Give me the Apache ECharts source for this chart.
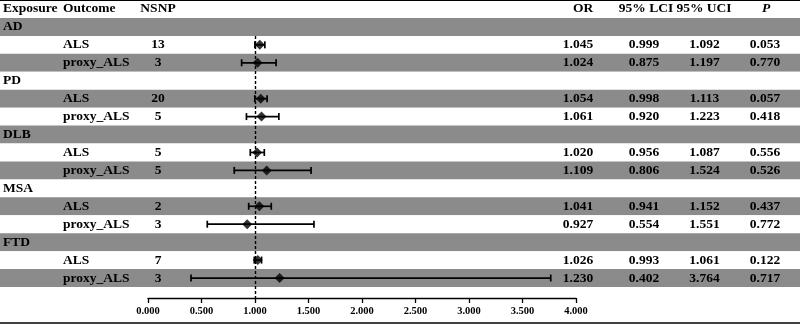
<!DOCTYPE html>
<html>
<head>
<meta charset="utf-8">
<script src="https://cdn.jsdelivr.net/npm/echarts@6/dist/echarts.min.js"></script>
<style>
html, body { margin: 0; padding: 0; background: #fff; }
#chart { width: 800px; height: 326px; }
</style>
</head>
<body>
<div id="chart"></div>
<script>
// 森林图：左右两侧为表格列（y 轴富文本标签），中间为 OR 及 95% CI。

const exposures = ['AD', 'PD', 'DLB', 'MSA', 'FTD']
const outcomes = ['ALS', 'proxy_ALS']
const nsnp = [13, 3, 20, 5, 5, 5, 2, 3, 7, 3]
const orVal = [1.045, 1.024, 1.054, 1.061, 1.020, 1.109, 1.041, 0.927, 1.026, 1.230]
const lci = [0.999, 0.875, 0.998, 0.920, 0.956, 0.806, 0.941, 0.554, 0.993, 0.402]
const uci = [1.092, 1.197, 1.113, 1.223, 1.087, 1.524, 1.152, 1.551, 1.061, 3.764]
const pVal = ['0.053', '0.770', '0.057', '0.418', '0.556', '0.526', '0.437', '0.772', '0.122', '0.717']
const headers = ['Exposure', 'Outcome', 'NSNP', 'OR', '95% LCI', '95% UCI', 'P']

const FONT = '"Liberation Serif", "Times New Roman", serif'
const GRAY = '#8b8b8b'

// 行：表头 + 每个暴露一行分组 + 两行结局
const rows = [{ type: 'head' }]
exposures.forEach((e, i) => {
  rows.push({ type: 'group', exposure: e })
  outcomes.forEach((o, j) => rows.push({ type: 'item', k: i * 2 + j, outcome: o }))
})

const TABLE_H = 287
const rowH = TABLE_H / rows.length
const AXIS_Y = 298 // 森林图 x 轴所在位置
const yMax = AXIS_Y / rowH

const whiskers = []
const points = []
rows.forEach((r, i) => {
  if (r.type !== 'item') return
  whiskers.push([lci[r.k], uci[r.k], i + 0.5])
  points.push([orVal[r.k], i + 0.5])
})

function rowLabel(idx) {
  const r = rows[Number(idx)]
  if (r.type === 'head') {
    return `{e|${headers[0]}}{o|${headers[1]}}{n|${headers[2]}}{hs1| }{c|${headers[3]}}` +
      `{hs2| }{c|${headers[4]}}{hs3| }{c|${headers[5]}}{hs4| }{pi|${headers[6]}}`
  }
  if (r.type === 'group') return `{e|${r.exposure}}`
  const k = r.k
  return `{e| }{o|${r.outcome}}{n|${nsnp[k]}}{s1| }{c|${orVal[k].toFixed(3)}}` +
    `{s2| }{c|${lci[k].toFixed(3)}}{s3| }{c|${uci[k].toFixed(3)}}{s4| }{c|${pVal[k]}}`
}

const txt = { fontFamily: FONT, fontWeight: 'bold', fontSize: 13.5, color: '#000' }

const chart = echarts.init(document.getElementById('chart'))
chart.setOption({
  animation: false,
  backgroundColor: '#fff',
  grid: [
    { left: 0, right: 0, top: 0, height: TABLE_H },
    { left: 148, width: 428, top: 0, height: AXIS_Y }
  ],
  xAxis: [
    {
      gridIndex: 0, type: 'value', min: 0, max: 1, position: 'top',
      axisLine: { show: true, lineStyle: { color: '#000', width: 2 } },
      axisTick: { show: false }, axisLabel: { show: false }, splitLine: { show: false }
    },
    {
      gridIndex: 0, type: 'value', min: 0, max: 1, position: 'bottom', offset: 36,
      axisLine: { show: true, lineStyle: { color: '#000', width: 1.5 } },
      axisTick: { show: false }, axisLabel: { show: false }, splitLine: { show: false }
    },
    {
      gridIndex: 1, type: 'value', min: 0, max: 4, interval: 0.5,
      axisLine: { show: true, onZero: false, lineStyle: { color: '#000', width: 1.3 } },
      axisTick: { show: true, length: 5, lineStyle: { color: '#000', width: 1.3 } },
      axisLabel: {
        margin: 8, fontFamily: FONT, fontWeight: 'bold', fontSize: 10.5, color: '#000',
        formatter: (v) => v.toFixed(3)
      },
      splitLine: { show: false }
    }
  ],
  yAxis: [
    {
      gridIndex: 0, type: 'category', inverse: true,
      data: rows.map((r, i) => String(i)),
      axisLine: { show: false }, axisTick: { show: false }, splitLine: { show: false },
      splitArea: { show: true, areaStyle: { color: ['#fff', GRAY] } },
      axisLabel: {
        inside: true, margin: 3, interval: 0,
        formatter: rowLabel,
        rich: {
          e: { ...txt, width: 60, align: 'left' },
          o: { ...txt, width: 80, align: 'left' },
          n: { ...txt, width: 30, align: 'center' },
          c: { ...txt, width: 40, align: 'center' },
          pi: { ...txt, width: 40, align: 'center', fontStyle: 'italic' },
          s1: { ...txt, width: 385, align: 'center' },
          s2: { ...txt, width: 26, align: 'center' },
          s3: { ...txt, width: 20.5, align: 'center' },
          s4: { ...txt, width: 20.5, align: 'center' },
          hs1: { ...txt, width: 390, align: 'center' },
          hs2: { ...txt, width: 23, align: 'center' },
          hs3: { ...txt, width: 18, align: 'center' },
          hs4: { ...txt, width: 22, align: 'center' }
        }
      }
    },
    { gridIndex: 1, type: 'value', inverse: true, min: 0, max: yMax, show: false }
  ],
  series: [
    {
      type: 'custom',
      xAxisIndex: 2, yAxisIndex: 1,
      data: whiskers,
      encode: { x: [0, 1], y: 2 },
      renderItem(params, api) {
        const y = api.value(2)
        const a = api.coord([api.value(0), y])
        const b = api.coord([api.value(1), y])
        const cap = 3.5
        const st = { stroke: '#000', lineWidth: 1.7 }
        return {
          type: 'group',
          children: [
            { type: 'line', shape: { x1: a[0], y1: a[1], x2: b[0], y2: b[1] }, style: st },
            { type: 'line', shape: { x1: a[0], y1: a[1] - cap, x2: a[0], y2: a[1] + cap }, style: st },
            { type: 'line', shape: { x1: b[0], y1: b[1] - cap, x2: b[0], y2: b[1] + cap }, style: st }
          ]
        }
      }
    },
    {
      type: 'scatter',
      xAxisIndex: 2, yAxisIndex: 1,
      data: points,
      symbol: 'diamond',
      symbolSize: 10,
      itemStyle: { color: '#000' },
      clip: false,
      markLine: {
        silent: true,
        symbol: 'none',
        label: { show: false },
        lineStyle: { color: '#000', type: [3, 2], width: 1.4 },
        data: [[{ coord: [1, 2] }, { coord: [1, yMax] }]]
      }
    }
  ]
})
</script>
</body>
</html>
